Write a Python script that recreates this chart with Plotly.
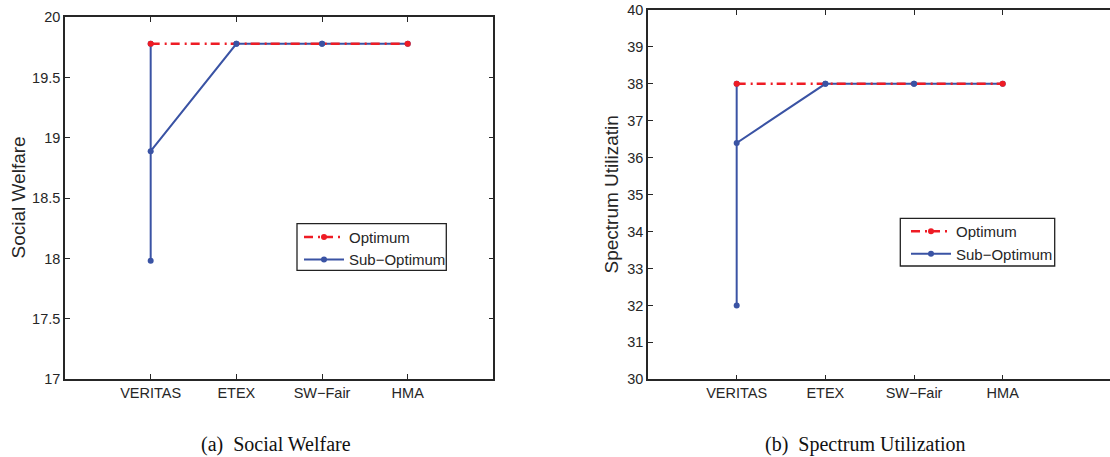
import plotly.graph_objects as go

categories = ["VERITAS", "ETEX", "SW\u2212Fair", "HMA"]

# (a) Social Welfare
welfare_optimum = [19.78, 19.78, 19.78, 19.78]
welfare_sub_x = ["VERITAS", "VERITAS", "VERITAS", "ETEX", "SW\u2212Fair", "HMA"]
welfare_sub_y = [19.78, 17.98, 18.89, 19.78, 19.78, 19.78]
welfare_ticks = [17, 17.5, 18, 18.5, 19, 19.5, 20]

# (b) Spectrum Utilization
spectrum_optimum = [38, 38, 38, 38]
spectrum_sub_x = ["VERITAS", "VERITAS", "VERITAS", "ETEX", "SW\u2212Fair", "HMA"]
spectrum_sub_y = [38, 32, 36.4, 38, 38, 38]
spectrum_ticks = [30, 31, 32, 33, 34, 35, 36, 37, 38, 39, 40]

RED = "#EE1C25"
BLUE = "#3A53A4"
INK = "#262626"
W, H = 1110, 457

fig = go.Figure()

def add_pair(xa, ya, opt, subx, suby, leg):
    fig.add_trace(go.Scatter(
        x=subx, y=suby, xaxis=xa, yaxis=ya, name="Sub\u2212Optimum", legend=leg,
        mode="lines+markers", line=dict(color=BLUE, width=2),
        marker=dict(color=BLUE, size=6), legendrank=2))
    fig.add_trace(go.Scatter(
        x=categories, y=opt, xaxis=xa, yaxis=ya, name="Optimum", legend=leg,
        mode="lines+markers", line=dict(color=RED, width=2.5, dash="9px,5px,2px,4px"),
        marker=dict(color=[RED, BLUE, BLUE, RED], size=6), legendrank=1))

add_pair("x", "y", welfare_optimum, welfare_sub_x, welfare_sub_y, "legend")
add_pair("x2", "y2", spectrum_optimum, spectrum_sub_x, spectrum_sub_y, "legend2")

tickfont = dict(family="Liberation Sans, Arial, sans-serif", size=14.5, color=INK)
axcommon = dict(showgrid=False, zeroline=False, showline=True, linecolor=INK, linewidth=1.5,
                ticks="inside", ticklen=5, tickwidth=1, tickcolor=INK, tickfont=tickfont,
                automargin=False)

def px_x(a, b):
    return [a / W, b / W]

def px_y(top, bottom):
    return [1 - bottom / H, 1 - top / H]

legfont = dict(family="Liberation Sans, Arial, sans-serif", size=15, color=INK)

fig.update_layout(
    width=W, height=H, margin=dict(l=0, r=0, t=0, b=0, autoexpand=False),
    paper_bgcolor="white", plot_bgcolor="white",
    xaxis=dict(domain=px_x(65, 493.4), anchor="y", type="category", categoryarray=categories,
               range=[-1, 4], mirror="ticks", **axcommon),
    yaxis=dict(domain=px_y(17.3, 379), anchor="x", range=[17, 20], tickvals=welfare_ticks,
               ticktext=[f"{v:g}" for v in welfare_ticks], mirror="ticks", **axcommon),
    xaxis2=dict(domain=px_x(648, 1110), anchor="y2", type="category", categoryarray=categories,
                range=[-1, 4.21], mirror="ticks", **axcommon),
    yaxis2=dict(domain=px_y(10, 379.3), anchor="x2", range=[30, 40], tickvals=spectrum_ticks,
                mirror=False, **axcommon),
    legend=dict(x=299 / W, y=1 - 220.7 / H, xanchor="left", yanchor="top",
                bgcolor="rgba(0,0,0,0)", borderwidth=0, font=legfont,
                tracegroupgap=0, itemwidth=40),
    legend2=dict(x=906 / W, y=1 - 215 / H, xanchor="left", yanchor="top",
                 bgcolor="rgba(0,0,0,0)", borderwidth=0, font=legfont,
                 tracegroupgap=0, itemwidth=40),
    showlegend=True,
)

# legend frames
fig.add_shape(type="rect", xref="paper", yref="paper", x0=297 / W, x1=446.3 / W,
              y0=1 - 270.3 / H, y1=1 - 223.7 / H, line=dict(color="#222222", width=1.3),
              fillcolor="white", layer="above")
fig.add_shape(type="rect", xref="paper", yref="paper", x0=900.3 / W, x1=1054.7 / W,
              y0=1 - 266 / H, y1=1 - 218.3 / H, line=dict(color="#222222", width=1.3),
              fillcolor="white", layer="above")

titlefont = dict(family="Liberation Sans, Arial, sans-serif", size=19, color=INK)
capfont = dict(family="Liberation Serif, Times New Roman, serif", size=20, color="#111111")

fig.add_annotation(text="Social Welfare", x=17.5 / W, y=1 - 198 / H, xref="paper", yref="paper",
                   textangle=-90, showarrow=False, font=titlefont, xanchor="center", yanchor="middle")
fig.add_annotation(text="Spectrum Utilizatin", x=610.5 / W, y=1 - 195 / H, xref="paper", yref="paper",
                   textangle=-90, showarrow=False, font=titlefont, xanchor="center", yanchor="middle")
fig.add_annotation(text="(a)\u00a0\u00a0Social Welfare", x=275.5 / W, y=1 - 444 / H, xref="paper", yref="paper",
                   showarrow=False, font=capfont, xanchor="center", yanchor="middle")
fig.add_annotation(text="(b)\u00a0\u00a0Spectrum Utilization", x=865.7 / W, y=1 - 444 / H, xref="paper", yref="paper",
                   showarrow=False, font=capfont, xanchor="center", yanchor="middle")

fig.write_html("out.html", config={"displayModeBar": False},
               post_script="document.body.style.margin='0';document.body.style.overflow='hidden';")
